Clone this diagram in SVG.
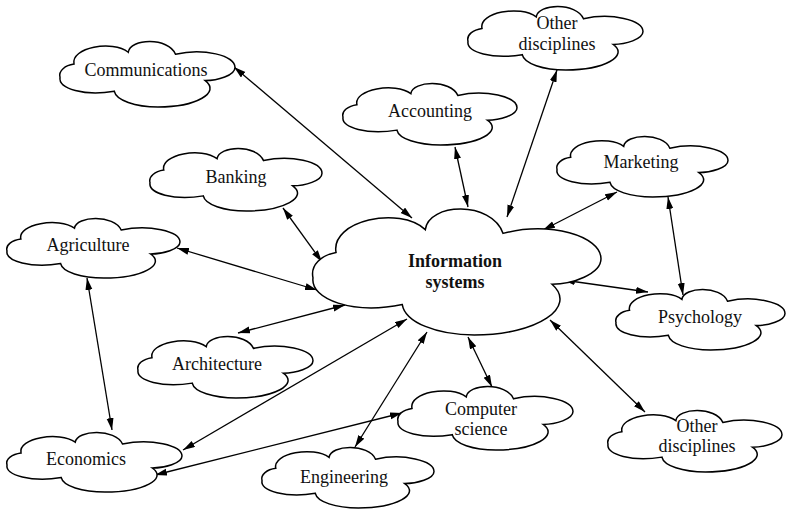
<svg xmlns="http://www.w3.org/2000/svg" xmlns:xlink="http://www.w3.org/1999/xlink" width="786" height="509" viewBox="0 0 786 509">
<style>
.cloud{fill:#fff;stroke:#000;stroke-width:1.5;vector-effect:non-scaling-stroke}
text{font-family:"Liberation Serif","Times New Roman",serif;font-size:18px;fill:#111;text-anchor:middle}
.bold{font-weight:bold}
.conn line{stroke:#000;stroke-width:1.3;marker-start:url(#ah);marker-end:url(#ah)}
</style>
<defs>
<marker id="ah" markerUnits="userSpaceOnUse" markerWidth="13" markerHeight="8" refX="12" refY="3.5" orient="auto-start-reverse" viewBox="0 0 13 8">
<path d="M0,0 L12,3.5 L0,7 Z" fill="#000"/>
</marker>
<path id="cloud" class="cloud" vector-effect="non-scaling-stroke" d="M0,0.55 C-0.01,0.45 0.03,0.37 0.08,0.35 C0.06,0.1 0.3,-0.02 0.39,0.17 C0.4,-0.04 0.62,-0.06 0.66,0.2 C0.82,0.1 1,0.22 1,0.4 C1,0.52 0.9,0.6 0.83,0.6 C0.92,0.78 0.78,1 0.56,1 C0.43,1 0.32,0.9 0.31,0.76 C0.14,0.84 -0.01,0.72 0,0.55 Z"/>
</defs>
<rect width="786" height="509" fill="#fff"/>
<g class="conn" id="connectors">
<line x1="234" y1="67" x2="412" y2="218"/>
<line x1="455" y1="147" x2="468" y2="207"/>
<line x1="557" y1="70" x2="507" y2="217"/>
<line x1="617" y1="192" x2="543" y2="230"/>
<line x1="668" y1="197" x2="683" y2="295"/>
<line x1="563" y1="280" x2="648" y2="292"/>
<line x1="550" y1="320" x2="645" y2="412"/>
<line x1="468" y1="337" x2="492" y2="387"/>
<line x1="427" y1="332" x2="355" y2="447"/>
<line x1="155" y1="475" x2="402" y2="413"/>
<line x1="183" y1="450" x2="407" y2="319"/>
<line x1="238" y1="333" x2="345" y2="305"/>
<line x1="177" y1="248" x2="317" y2="290"/>
<line x1="283" y1="208" x2="322" y2="262"/>
<line x1="87" y1="278" x2="112" y2="430"/>
</g>
<g id="information-systems"><use xlink:href="#cloud" transform="translate(313,208) scale(288,127)"/><text class="bold" x="455" y="267">Information</text><text class="bold" x="455" y="288">systems</text></g>
<g id="communications"><use xlink:href="#cloud" transform="translate(60,41) scale(175,66)"/><text x="146" y="76">Communications</text></g>
<g id="other-top"><use xlink:href="#cloud" transform="translate(468,6) scale(175,64)"/><text x="557" y="29">Other</text><text x="557" y="50">disciplines</text></g>
<g id="accounting"><use xlink:href="#cloud" transform="translate(343,83) scale(174,62)"/><text x="430" y="117">Accounting</text></g>
<g id="marketing"><use xlink:href="#cloud" transform="translate(557,136) scale(171,61)"/><text x="641" y="168">Marketing</text></g>
<g id="banking"><use xlink:href="#cloud" transform="translate(150,148) scale(172,63)"/><text x="236" y="183">Banking</text></g>
<g id="agriculture"><use xlink:href="#cloud" transform="translate(7,218) scale(173,60)"/><text x="88" y="251">Agriculture</text></g>
<g id="architecture"><use xlink:href="#cloud" transform="translate(138,336) scale(175,62)"/><text x="217" y="370">Architecture</text></g>
<g id="economics"><use xlink:href="#cloud" transform="translate(7,432) scale(175,60)"/><text x="86" y="465">Economics</text></g>
<g id="engineering"><use xlink:href="#cloud" transform="translate(262,447) scale(172,61)"/><text x="344" y="483">Engineering</text></g>
<g id="computer-science"><use xlink:href="#cloud" transform="translate(398,386) scale(175,64)"/><text x="481" y="415">Computer</text><text x="481" y="435">science</text></g>
<g id="psychology"><use xlink:href="#cloud" transform="translate(616,289) scale(169,61)"/><text x="700" y="323">Psychology</text></g>
<g id="other-bottom"><use xlink:href="#cloud" transform="translate(608,410) scale(174,62)"/><text x="697" y="432">Other</text><text x="697" y="452">disciplines</text></g>
</svg>
